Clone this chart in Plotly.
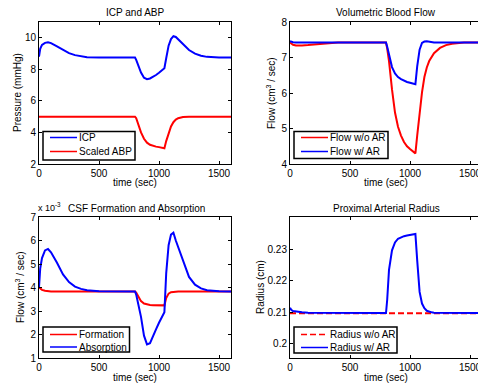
import plotly.graph_objects as go

# ---------------- data ----------------
T = [0, 10, 25, 50, 75, 100, 150, 200, 250, 300, 350, 400, 500, 600, 700, 800,
     810, 825, 850, 875, 900, 925, 950, 975, 1000, 1025, 1045, 1060, 1080, 1100,
     1120, 1140, 1160, 1180, 1200, 1250, 1300, 1350, 1400, 1450, 1500, 1600]

icp = [8.8, 9.3, 9.55, 9.68, 9.72, 9.66, 9.45, 9.22, 9.03, 8.9, 8.82, 8.77, 8.75, 8.75, 8.75, 8.75,
       8.6, 8.25, 7.8, 7.47, 7.38, 7.42, 7.52, 7.64, 7.78, 7.93, 8.07, 8.7, 9.5, 9.92,
       10.1, 10.05, 9.9, 9.72, 9.56, 9.22, 8.99, 8.86, 8.79, 8.76, 8.75, 8.75]
abp_scaled = [5.0, 5.0, 5.0, 5.0, 5.0, 5.0, 5.0, 5.0, 5.0, 5.0, 5.0, 5.0, 5.0, 5.0, 5.0, 5.0,
              4.9, 4.55, 4.0, 3.6, 3.35, 3.22, 3.14, 3.1, 3.07, 3.04, 3.0, 3.45, 3.95, 4.38,
              4.65, 4.81, 4.9, 4.95, 4.98, 5.0, 5.0, 5.0, 5.0, 5.0, 5.0, 5.0]

flow_no_ar = [7.42, 7.39, 7.36, 7.34, 7.33, 7.34, 7.35, 7.37, 7.38, 7.4, 7.41, 7.42, 7.42, 7.42, 7.42, 7.42,
              7.25, 6.9, 6.1, 5.45, 5.05, 4.8, 4.62, 4.5, 4.42, 4.36, 4.3, 4.8, 5.5, 6.02,
              6.45, 6.72, 6.9, 7.03, 7.12, 7.27, 7.35, 7.39, 7.41, 7.42, 7.42, 7.42]
flow_ar = [7.46, 7.44, 7.43, 7.42, 7.42, 7.42, 7.42, 7.42, 7.42, 7.42, 7.42, 7.42, 7.42, 7.42, 7.42, 7.42,
           7.3, 7.05, 6.73, 6.55, 6.45, 6.39, 6.34, 6.31, 6.29, 6.27, 6.25, 6.75, 7.22, 7.41,
           7.45, 7.46, 7.45, 7.43, 7.42, 7.42, 7.42, 7.42, 7.42, 7.42, 7.42, 7.42]

# CSF flows in units of 1e-3 cm^3/sec
formation = [4.0, 3.95, 3.9, 3.86, 3.84, 3.83, 3.83, 3.83, 3.83, 3.83, 3.83, 3.83, 3.83, 3.83, 3.83, 3.83,
             3.78, 3.62, 3.42, 3.32, 3.28, 3.26, 3.25, 3.25, 3.24, 3.24, 3.24, 3.55, 3.74, 3.8,
             3.82, 3.83, 3.83, 3.83, 3.83, 3.83, 3.83, 3.83, 3.83, 3.83, 3.83, 3.83]
absorption = [4.0, 4.8, 5.25, 5.58, 5.64, 5.5, 5.05, 4.56, 4.23, 4.04, 3.94, 3.88, 3.84, 3.83, 3.83, 3.83,
              3.7, 3.35, 2.75, 1.95, 1.58, 1.63, 1.95, 2.22, 2.5, 2.74, 2.95, 4.6, 5.8, 6.25,
              6.33, 6.0, 5.72, 5.38, 5.08, 4.45, 4.12, 3.96, 3.88, 3.85, 3.84, 3.83]

radius_no_ar = [0.2097] * len(T)
radius_ar = [0.2115, 0.2108, 0.2104, 0.2102, 0.2101, 0.21, 0.2099, 0.2099, 0.2098, 0.2098, 0.2098, 0.2098, 0.2098, 0.2098, 0.2098, 0.2098,
             0.214, 0.2235, 0.2297, 0.2322, 0.2334, 0.2339, 0.2342, 0.2344, 0.2346, 0.2347, 0.2349, 0.2265, 0.2165, 0.2128,
             0.2113, 0.2105, 0.2102, 0.21, 0.2099, 0.2099, 0.2098, 0.2098, 0.2098, 0.2098, 0.2098, 0.2098]

x_ticks = [0, 500, 1000, 1500]

# ---------------- figure ----------------
W, H = 478, 387
FONT = "Liberation Sans, Arial, Helvetica, sans-serif"
BLUE = "rgb(0,0,255)"
RED = "rgb(255,0,0)"
DASH = "6px,3px"


def px(v):
    return v / W


def py(v):
    return 1 - v / H


LX = [px(39), px(231)]
RX = [px(290), 1.0]
TY = [py(164), py(22)]
BY = [py(358), py(217)]
RIGHT_XMAX = 1600 * (478 - 290) / 192.0

# panel: (xaxis, yaxis, series list, legend box [x0, y0, x1, y1] in px, row centres)
panels = [
    ("x", "y", [(icp, "ICP", BLUE, "solid"), (abp_scaled, "Scaled ABP", RED, "solid")],
     (43, 131.5, 135, 160), (137.5, 151.5)),
    ("x2", "y2", [(flow_no_ar, "Flow w/o AR", RED, "solid"), (flow_ar, "Flow w/ AR", BLUE, "solid")],
     (294, 131.5, 388, 158.5), (137.5, 151.5)),
    ("x3", "y3", [(formation, "Formation", RED, "solid"), (absorption, "Absorption", BLUE, "solid")],
     (43, 327, 129.5, 352), (334.5, 347)),
    ("x4", "y4", [(radius_no_ar, "Radius w/o AR", RED, DASH), (radius_ar, "Radius w/ AR", BLUE, "solid")],
     (294, 327, 397, 353), (334.5, 347.5)),
]

fig = go.Figure()
shapes = []
ann = []


def text(x, y, s, angle=0, size=10, xanchor="center"):
    ann.append(dict(x=px(x), y=py(y), xref="paper", yref="paper", text=s,
                    showarrow=False, textangle=angle, xanchor=xanchor, yanchor="middle",
                    borderpad=0, font=dict(family=FONT, size=size, color="black")))


for xa, ya, series, box, rows in panels:
    for ys, name, color, dash in series:
        fig.add_trace(go.Scatter(x=T, y=ys, name=name, mode="lines",
                                 line=dict(color=color, width=2, dash=dash),
                                 xaxis=xa, yaxis=ya, showlegend=False))
    # legend box (MATLAB style)
    x0, y0, x1, y1 = box
    shapes.append(dict(type="rect", xref="paper", yref="paper",
                       x0=px(x0), x1=px(x1), y0=py(y1), y1=py(y0),
                       fillcolor="white", line=dict(color="black", width=1.5), layer="above"))
    for (ys, name, color, dash), ry in zip(series, rows):
        shapes.append(dict(type="line", xref="paper", yref="paper",
                           x0=px(x0 + 7), x1=px(x0 + 34), y0=py(ry), y1=py(ry),
                           line=dict(color=color, width=1.5, dash=dash), layer="above"))
        text(x0 + 34.5, ry, name, xanchor="left", size=10)

tickfont = dict(family=FONT, size=10, color="black")


def xax(domain, anchor, rng):
    return dict(domain=domain, anchor=anchor, range=rng, tickvals=x_ticks,
                showgrid=False, zeroline=False, showline=True, linecolor="black",
                linewidth=1, mirror="ticks", ticks="inside", ticklen=3,
                tickcolor="black", tickwidth=1, tickfont=tickfont,
                ticklabeloverflow="allow", automargin=False)


def yax(domain, anchor, rng, tickvals, mirror):
    return dict(domain=domain, anchor=anchor, range=rng, tickvals=tickvals,
                showgrid=False, zeroline=False, showline=True, linecolor="black",
                linewidth=1, mirror=mirror, ticks="inside", ticklen=3,
                tickcolor="black", tickwidth=1, tickfont=tickfont, automargin=False)


fig.update_layout(
    width=W, height=H, margin=dict(l=0, r=0, t=0, b=0),
    paper_bgcolor="white", plot_bgcolor="white", showlegend=False,
    font=dict(family=FONT, size=10, color="black"),
    xaxis=xax(LX, "y", [0, 1600]),
    yaxis=yax(TY, "x", [2, 11], [2, 4, 6, 8, 10], "ticks"),
    xaxis2=xax(RX, "y2", [0, RIGHT_XMAX]),
    yaxis2=yax(TY, "x2", [4, 8], [4, 5, 6, 7, 8], False),
    xaxis3=xax(LX, "y3", [0, 1600]),
    yaxis3=yax(BY, "x3", [1, 7], [1, 2, 3, 4, 5, 6, 7], "ticks"),
    xaxis4=xax(RX, "y4", [0, RIGHT_XMAX]),
    yaxis4=yax(BY, "x4", [0.1955, 0.2403], [0.2, 0.21, 0.22, 0.23], False),
)

# titles
text(135, 12, "ICP and ABP")
text(386, 12, "Volumetric Blood Flow")
text(136, 208, "CSF Formation and Absorption")
text(386, 208, "Proximal Arterial Radius")
text(37, 207, "x 10<sup>-3</sup>", xanchor="left", size=9)
# x titles
for cx in (135, 386):
    text(cx, 183, "time (sec)")
    text(cx, 377, "time (sec)")
# y titles
text(17, 93, "Pressure (mmHg)", angle=-90)
text(271, 93, "Flow (cm<sup>3</sup> / sec)", angle=-90)
text(20, 287, "Flow (cm<sup>3</sup> / sec)", angle=-90)
text(260, 287, "Radius (cm)", angle=-90)

fig.update_layout(annotations=ann, shapes=shapes)

fig.write_html("out.html")
